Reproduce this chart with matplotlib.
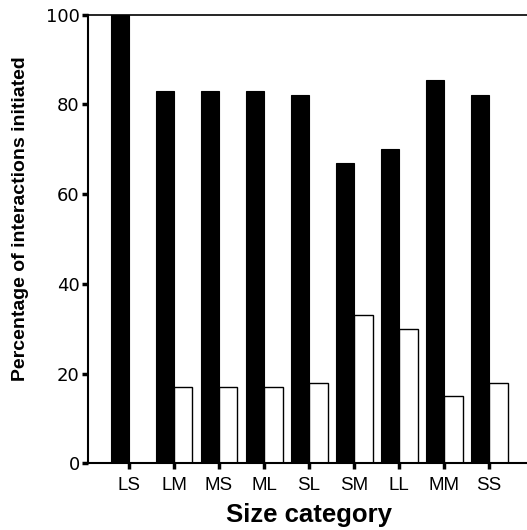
import matplotlib
matplotlib.use("Agg")
import matplotlib.pyplot as plt
import numpy as np

plt.rcParams['font.family'] = ['Liberation Sans', 'DejaVu Sans']

categories = ["LS", "LM", "MS", "ML", "SL", "SM", "LL", "MM", "SS"]
black_vals = [100, 83, 83, 83, 82, 67, 70, 85.5, 82]
white_vals = [0, 17, 17, 17, 18, 33, 30, 15, 18]
yticks = [0, 20, 40, 60, 80, 100]

W, H = 527, 530
fig = plt.figure(figsize=(W/100, H/100), dpi=100)
ax = fig.add_axes([88/W, 1 - 463.3/H, 1 - 88/W, (463.3 - 14.7)/H])

x = np.arange(len(categories))
w = 0.41
ax.bar(x - w/2, black_vals, width=w, color='black', edgecolor='black', linewidth=0.8)
ax.bar(x + w/2, white_vals, width=w, color='white', edgecolor='black', linewidth=1.0)

ax.set_xlim(-0.91, 8.84)
ax.set_ylim(0, 100)
ax.set_xticks(x)
ax.set_xticklabels(categories, fontsize=13.5)
ax.set_yticks(yticks)
ax.set_yticklabels([str(v) for v in yticks], fontsize=13, family=['DejaVu Sans'])
ax.tick_params(axis='both', direction='out', length=4, width=2.5)
ax.tick_params(axis='y', pad=2)
ax.tick_params(axis='x', pad=6)

ax.spines['right'].set_visible(False)
for s in ['left', 'bottom']:
    ax.spines[s].set_linewidth(1.5)
ax.spines['top'].set_linewidth(1.2)

fig.text(21/W, 1 - 219/H, "Percentage of interactions initiated", rotation=90,
         ha='center', va='center', fontsize=14, fontweight='bold')
fig.text(309.5/W, 1 - 522/H, "Size category", ha='center', va='baseline',
         fontsize=18.5, fontweight='bold')

fig.savefig("out.png", dpi=100)
